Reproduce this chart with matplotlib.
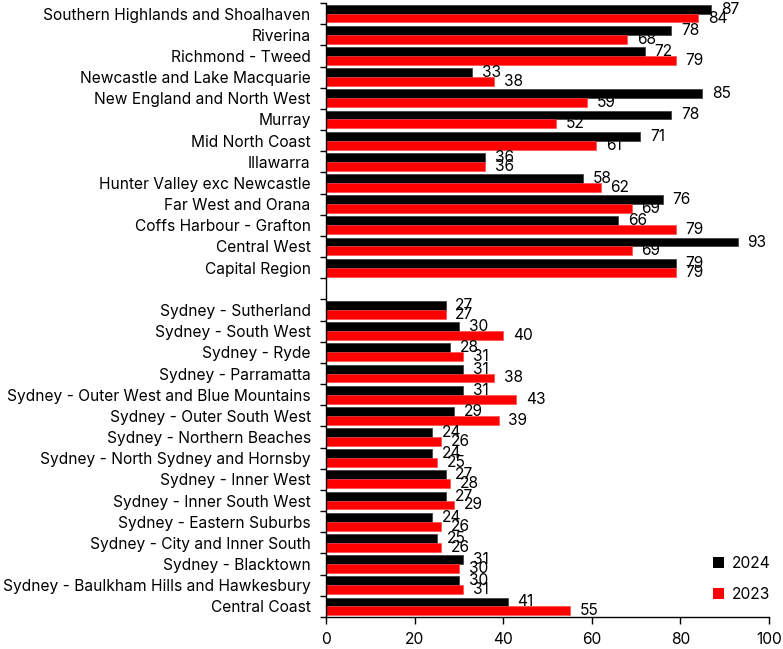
import matplotlib
matplotlib.use("Agg")
import matplotlib.pyplot as plt
from matplotlib.patches import Patch
import numpy as np

plt.rcParams['font.family'] = ['Inter', 'DejaVu Sans']

# Regions listed top to bottom; None marks the spacer row between groups
regions = [
    "Southern Highlands and Shoalhaven", "Riverina", "Richmond - Tweed",
    "Newcastle and Lake Macquarie", "New England and North West", "Murray",
    "Mid North Coast", "Illawarra", "Hunter Valley exc Newcastle",
    "Far West and Orana", "Coffs Harbour - Grafton", "Central West",
    "Capital Region", None,
    "Sydney - Sutherland", "Sydney - South West", "Sydney - Ryde",
    "Sydney - Parramatta", "Sydney - Outer West and Blue Mountains",
    "Sydney - Outer South West", "Sydney - Northern Beaches",
    "Sydney - North Sydney and Hornsby", "Sydney - Inner West",
    "Sydney - Inner South West", "Sydney - Eastern Suburbs",
    "Sydney - City and Inner South", "Sydney - Blacktown",
    "Sydney - Baulkham Hills and Hawkesbury", "Central Coast",
]
values_2024 = [87, 78, 72, 33, 85, 78, 71, 36, 58, 76, 66, 93, 79, None,
               27, 30, 28, 31, 31, 29, 24, 24, 27, 27, 24, 25, 31, 30, 41]
values_2023 = [84, 68, 79, 38, 59, 52, 61, 36, 62, 69, 79, 69, 79, None,
               27, 40, 31, 38, 43, 39, 26, 25, 28, 29, 26, 26, 30, 31, 55]
x_ticks = [0, 20, 40, 60, 80, 100]

fig = plt.figure(figsize=(7.83, 6.49), dpi=100)
ax = fig.add_axes([0.4163, 0.0493, 0.982 - 0.4163, 0.9954 - 0.0493])

n = len(regions)
h = 0.42
fs = 11.2
for i, (name, v24, v23) in enumerate(zip(regions, values_2024, values_2023)):
    if name is None:
        continue
    y = n - 1 - i
    ax.barh(y + h / 2, v24, height=h, color="black", edgecolor="#444444", linewidth=0.6)
    ax.barh(y - h / 2, v23, height=h, color="#ff0000", edgecolor="#ff4040", linewidth=0.4)
    ax.annotate(str(v24), (v24, y + h / 2), xytext=(7, 0), textcoords="offset points",
                ha="left", va="center", fontsize=fs)
    ax.annotate(str(v23), (v23, y - h / 2), xytext=(7, 0), textcoords="offset points",
                ha="left", va="center", fontsize=fs)

ax.set_xlim(0, 100)
ax.set_ylim(-0.5, n - 0.5)
ax.set_xticks(x_ticks)
ax.set_xticklabels([str(t) for t in x_ticks], fontsize=fs)

label_pos = [n - 1 - i for i, r in enumerate(regions) if r is not None]
label_txt = [r for r in regions if r is not None]
ax.set_yticks(label_pos)
ax.set_yticklabels(label_txt, fontsize=fs)
ax.set_yticks(np.arange(-0.5, n, 1.0), minor=True)
ax.tick_params(axis="y", which="major", length=0, pad=11)
ax.tick_params(axis="y", which="minor", length=4, width=1, direction="out")
ax.tick_params(axis="x", which="major", length=5, width=1, direction="out", pad=6)

for side in ("top", "right"):
    ax.spines[side].set_visible(False)
for side in ("left", "bottom"):
    ax.spines[side].set_linewidth(1.0)

handles = [Patch(facecolor="black", label="2024"), Patch(facecolor="#ff0000", label="2023")]
ax.legend(handles=handles, loc="lower right", bbox_to_anchor=(1.035, 0.002), frameon=False,
          fontsize=11.2, handlelength=0.7, handleheight=0.7, handletextpad=0.5,
          labelspacing=1.0)

fig.savefig("out.png", dpi=100)
